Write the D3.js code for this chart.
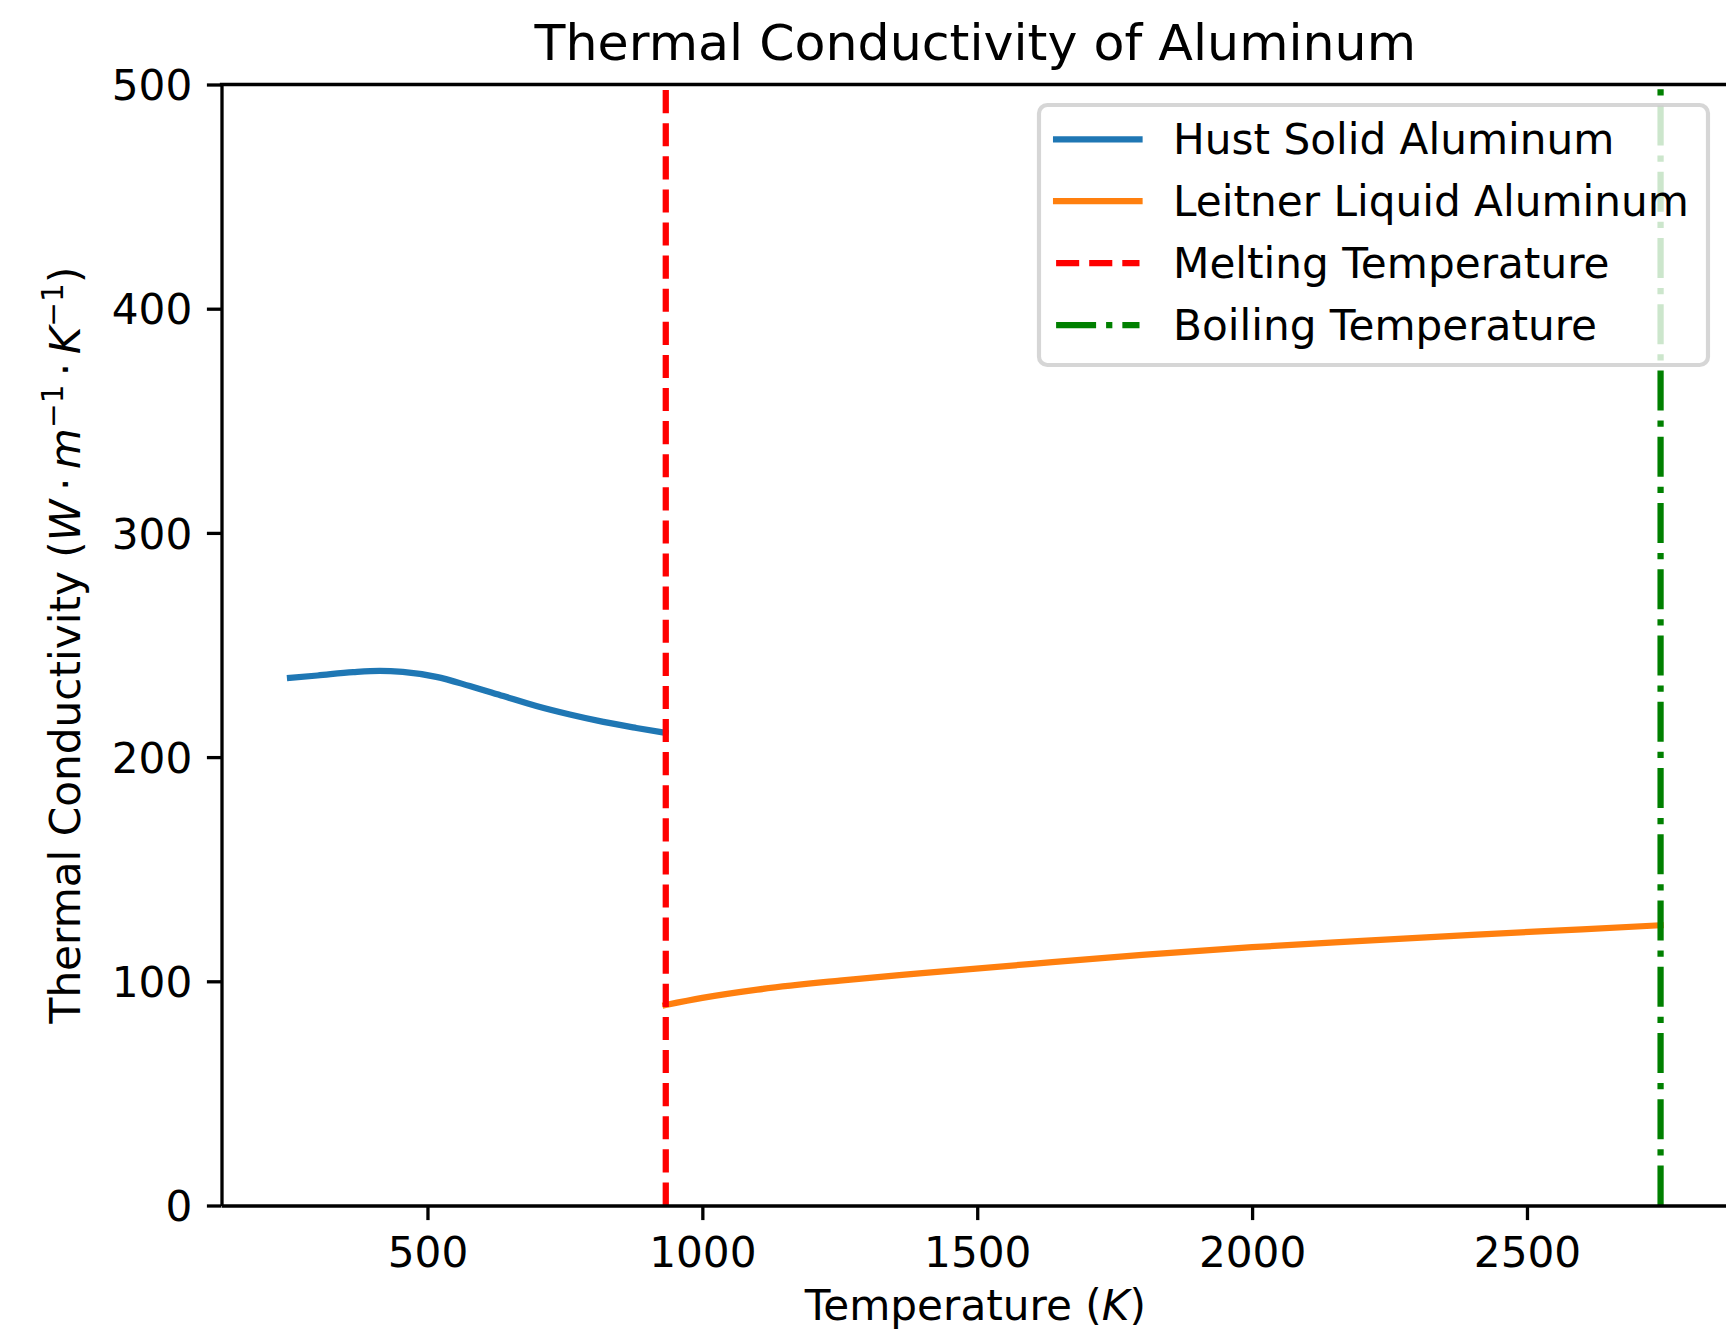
<!DOCTYPE html>
<html>
<head>
<meta charset="utf-8">
<script src="https://cdn.jsdelivr.net/npm/d3@7"></script>
<style>
  body { margin: 0; background: #fff; }
  text { font-family: "DejaVu Sans", sans-serif; fill: #000; }
</style>
</head>
<body>
<div id="chart"></div>
<script>
// Data
const solidTemps = [250, 300, 365, 413, 455, 516, 577, 638, 698, 759, 820, 880, 933];
const solidK = [235.3, 236.4, 237.9, 238.5, 238.0, 235.8, 231.7, 227.2, 222.8, 219.0, 215.7, 213.0, 210.8];

const liquidTemps = [933, 1000, 1100, 1250, 1400, 1600, 1800, 2000, 2200, 2400, 2600, 2743];
const liquidK = [89.4, 92.6, 96.3, 100.3, 103.6, 107.8, 111.8, 115.2, 118.0, 120.7, 123.2, 125.0];

const meltingTemp = 933.47;
const boilingTemp = 2743;

const xTicks = [500, 1000, 1500, 2000, 2500];
const yTicks = [0, 100, 200, 300, 400, 500];

const seriesNames = ["Hust Solid Aluminum", "Leitner Liquid Aluminum", "Melting Temperature", "Boiling Temperature"];
const seriesColors = ["#1f77b4", "#ff7f0e", "#ff0000", "#008000"];
const seriesDash = [null, null, "23.1,10", "40,10,6.25,10"];

// sizes (matplotlib at ~300 dpi)
const bigWidth = 1726;
const bigHeight = 1331;
const fontSize = 42.2;
const lw = 6.25;
const spineW = 3.3;
const tickLen = 14.6;

const plot = {left: 221.5, right: 1729.1, top: 84.5, bottom: 1205.5};

const svg = d3.select("#chart").append("svg")
  .attr("width", bigWidth)
  .attr("height", bigHeight);

// x limits: data range 250..2743 plus 5% margins
const xMin = 250 - 0.05 * (boilingTemp - 250);
const xMax = boilingTemp + 0.05 * (boilingTemp - 250);

const xScale = d3.scaleLinear()
  .domain([xMin, xMax])
  .range([plot.left, plot.right]);

const yScale = d3.scaleLinear()
  .domain([0, 500])
  .range([plot.bottom, plot.top]);

const line = d3.line()
  .curve(d3.curveMonotoneX)
  .x(d => xScale(d[0]))
  .y(d => yScale(d[1]));

const solidData = solidTemps.map((t, i) => [t, solidK[i]]);
const liquidData = liquidTemps.map((t, i) => [t, liquidK[i]]);

// solid curve
svg.append("path")
  .datum(solidData)
  .attr("d", line)
  .attr("fill", "none")
  .attr("stroke", seriesColors[0])
  .attr("stroke-width", lw)
  .attr("stroke-linecap", "square");

// liquid curve
svg.append("path")
  .datum(liquidData)
  .attr("d", line)
  .attr("fill", "none")
  .attr("stroke", seriesColors[1])
  .attr("stroke-width", lw)
  .attr("stroke-linecap", "square");

// vertical lines, drawn bottom -> top so dashes start at the bottom
[meltingTemp, boilingTemp].forEach((t, i) => {
  svg.append("line")
    .attr("x1", xScale(t))
    .attr("x2", xScale(t))
    .attr("y1", yScale(0))
    .attr("y2", yScale(500))
    .attr("stroke", seriesColors[i + 2])
    .attr("stroke-width", lw)
    .attr("stroke-dasharray", seriesDash[i + 2]);
});

// axes
const xAxis = svg.append("g")
  .attr("transform", `translate(0,${plot.bottom})`)
  .call(d3.axisBottom(xScale).tickValues(xTicks).tickFormat(d3.format("d"))
    .tickSize(tickLen).tickSizeOuter(0));

xAxis.selectAll("text")
  .attr("y", 61.8)
  .attr("dy", null)
  .style("font-size", fontSize + "px");

const yAxis = svg.append("g")
  .attr("transform", `translate(${plot.left},0)`)
  .call(d3.axisLeft(yScale).tickValues(yTicks).tickFormat(d3.format("d"))
    .tickSize(tickLen).tickSizeOuter(0));

yAxis.selectAll("text")
  .attr("x", -29.2)
  .attr("dy", null)
  .attr("y", 15.2)
  .style("font-size", fontSize + "px");

svg.selectAll(".domain").attr("stroke", "#000").attr("stroke-width", spineW);
svg.selectAll(".tick line").attr("stroke", "#000").attr("stroke-width", spineW);
svg.selectAll(".tick text").attr("font-family", "DejaVu Sans").attr("fill", "#000");

// top and right spines
svg.append("line")
  .attr("x1", plot.left - spineW / 2).attr("x2", plot.right)
  .attr("y1", plot.top).attr("y2", plot.top)
  .attr("stroke", "#000").attr("stroke-width", spineW);
svg.append("line")
  .attr("x1", plot.right).attr("x2", plot.right)
  .attr("y1", plot.top).attr("y2", plot.bottom)
  .attr("stroke", "#000").attr("stroke-width", spineW);

// title
svg.append("text")
  .attr("x", (plot.left + plot.right) / 2)
  .attr("y", 60)
  .attr("text-anchor", "middle")
  .style("font-size", (fontSize * 1.2) + "px")
  .text("Thermal Conductivity of Aluminum");

// x label (kept just inside the bottom edge)
const xLabel = svg.append("text")
  .attr("x", (plot.left + plot.right) / 2)
  .attr("y", 1320)
  .attr("text-anchor", "middle")
  .style("font-size", fontSize + "px");
xLabel.append("tspan").text("Temperature (");
xLabel.append("tspan").style("font-style", "italic").text("K");
xLabel.append("tspan").text(")");

// y label with superscripts
const supSize = fontSize * 0.7;
const supShift = 17;
const yLabel = svg.append("text")
  .attr("transform", `translate(80.4,${(plot.top + plot.bottom) / 2}) rotate(-90)`)
  .attr("text-anchor", "middle")
  .style("font-size", fontSize + "px");
yLabel.append("tspan").text("Thermal Conductivity (");
yLabel.append("tspan").style("font-style", "italic").text("W");
yLabel.append("tspan").text("\u2009\u00b7\u2009");
yLabel.append("tspan").style("font-style", "italic").text("m");
yLabel.append("tspan").attr("dy", -supShift).style("font-size", supSize + "px").text("\u22121");
yLabel.append("tspan").attr("dy", supShift).text("\u2009\u00b7\u2009");
yLabel.append("tspan").style("font-style", "italic").text("K");
yLabel.append("tspan").attr("dy", -supShift).style("font-size", supSize + "px").text("\u22121");
yLabel.append("tspan").attr("dy", supShift).text(")");

// legend
const legend = svg.append("g");

legend.append("rect")
  .attr("x", 1039)
  .attr("y", 105)
  .attr("width", 1708 - 1039)
  .attr("height", 365 - 105)
  .attr("rx", 8.3)
  .attr("fill", "#fff")
  .attr("fill-opacity", 0.8)
  .attr("stroke", "#cccccc")
  .attr("stroke-opacity", 0.8)
  .attr("stroke-width", 4.17);

seriesNames.forEach((name, i) => {
  const rowY = 139.3 + i * 61.9;
  legend.append("line")
    .attr("x1", 1056.1)
    .attr("x2", 1139.5)
    .attr("y1", rowY)
    .attr("y2", rowY)
    .attr("stroke", seriesColors[i])
    .attr("stroke-width", lw)
    .attr("stroke-dasharray", seriesDash[i])
    .attr("stroke-linecap", seriesDash[i] ? "butt" : "square");

  legend.append("text")
    .attr("x", 1173)
    .attr("y", rowY + 15)
    .style("font-size", fontSize + "px")
    .text(name);
});
</script>
</body>
</html>
